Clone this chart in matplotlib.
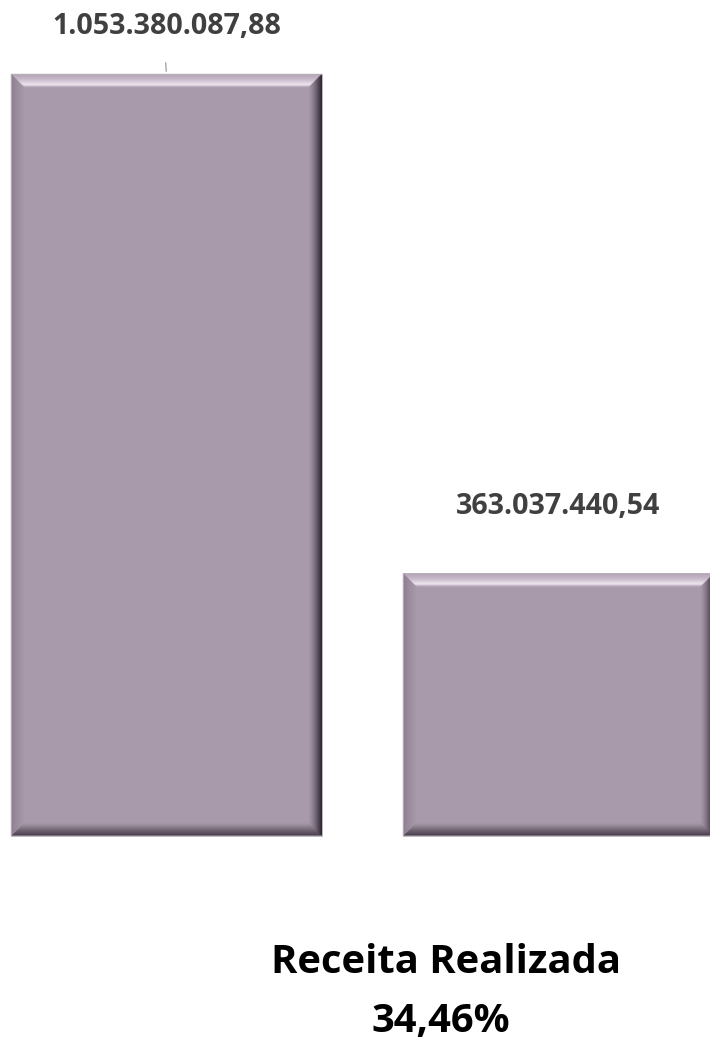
import matplotlib
matplotlib.use("Agg")
import matplotlib.pyplot as plt
import numpy as np
from matplotlib.patches import Polygon
from matplotlib.colors import to_rgb

# ---- data ----
categories = ["Receita Prevista", "Receita Realizada"]
values = [1053380087.88, 363037440.54]
value_labels = ["1.053.380.087,88", "363.037.440,54"]
label_offsets_px = [40, 59]
summary_lines = ["Receita Realizada", "34,46%"]

FACE = "#A89AAA"
FONT = ["Open Sans", "DejaVu Sans"]
W, H, DPI = 710, 1041, 100
fig = plt.figure(figsize=(W / DPI, H / DPI), dpi=DPI)
fig.patch.set_facecolor("white")
ax = fig.add_axes([0, 0, 1, 1])
x = np.arange(len(values))
bars = ax.bar(x, values, width=0.793, color=FACE, edgecolor="none", zorder=1)
ax.set_xlim(-0.4247, 1.3865)
ax.set_ylim(-2.834e8, 1.1557e9)
ax.axis("off")


def interp(stops, t):
    ts = [s[0] for s in stops]
    cs = [np.array(to_rgb(s[1])) for s in stops]
    for i in range(len(ts) - 1):
        if ts[i] <= t <= ts[i + 1]:
            f = (t - ts[i]) / (ts[i + 1] - ts[i]) if ts[i + 1] > ts[i] else 0
            return tuple(cs[i] * (1 - f) + cs[i + 1] * f)
    return tuple(cs[-1])


top_stops = [(0, "#B3A4B5"), (0.45, "#CBBCCD"), (0.8, "#EDE4EE"), (0.9, "#E2D7E3"), (1, "#AFA1B1")]
right_stops = [(0, "#221D24"), (0.2, "#453B47"), (0.6, "#807383"), (1, FACE)]
bottom_stops = [(0, "#C9C1CB"), (0.1, "#4A414D"), (0.4, "#6A5E6C"), (1, FACE)]
left_stops = [(0, "#8A7D8C"), (0.4, "#988A9A"), (1, FACE)]

BEV = 13
N = 26
for b in bars:
    (x0, y0), (x1, y1) = ax.transData.transform([(b.get_x(), 0), (b.get_x() + b.get_width(), b.get_height())])
    for i in range(N):
        t0 = BEV * i / N
        t1 = BEV * (i + 1) / N
        tm = (i + 0.5) / N
        sides = [
            ([(x0 + t0, y1 - t0), (x1 - t0, y1 - t0), (x1 - t1, y1 - t1), (x0 + t1, y1 - t1)], top_stops),
            ([(x1 - t0, y1 - t0), (x1 - t0, y0 + t0), (x1 - t1, y0 + t1), (x1 - t1, y1 - t1)], right_stops),
            ([(x0 + t0, y0 + t0), (x1 - t0, y0 + t0), (x1 - t1, y0 + t1), (x0 + t1, y0 + t1)], bottom_stops),
            ([(x0 + t0, y1 - t0), (x0 + t0, y0 + t0), (x0 + t1, y0 + t1), (x0 + t1, y1 - t1)], left_stops),
        ]
        for pts, stops in sides:
            c = interp(stops, tm)
            fig.add_artist(Polygon(pts, closed=True, transform=None, facecolor=c,
                                   edgecolor=c, linewidth=0.3, zorder=2))
    fig.add_artist(Polygon([(x0, y0), (x1, y0), (x1, y1), (x0, y1)], closed=True, transform=None,
                           facecolor="none", edgecolor="#B9B0BB", linewidth=0.6, zorder=3))

# value labels
for i, (b, lab, off) in enumerate(zip(bars, value_labels, label_offsets_px)):
    cx = b.get_x() + b.get_width() / 2
    ax.annotate(lab, xy=(cx, b.get_height()), xytext=(0, off), textcoords="offset pixels",
                ha="center", va="baseline", fontsize=20.6, fontweight="bold",
                family=FONT, color="#404040", zorder=5)
    if i == 0:
        ax.annotate("", xy=(cx, b.get_height()), xytext=(-1, 14), textcoords="offset pixels",
                    arrowprops=dict(arrowstyle="-", color="#A6A6A6", lw=1.0))

# summary text
fig.text(446 / W, 1 - 973 / H, summary_lines[0], ha="center", va="baseline",
         fontsize=28.8, fontweight="bold", family=FONT, color="black")
fig.text(441 / W, 1 - 1032 / H, summary_lines[1], ha="center", va="baseline",
         fontsize=28.8, fontweight="bold", family=FONT, color="black")

fig.savefig("out.png", dpi=DPI, facecolor="white")
